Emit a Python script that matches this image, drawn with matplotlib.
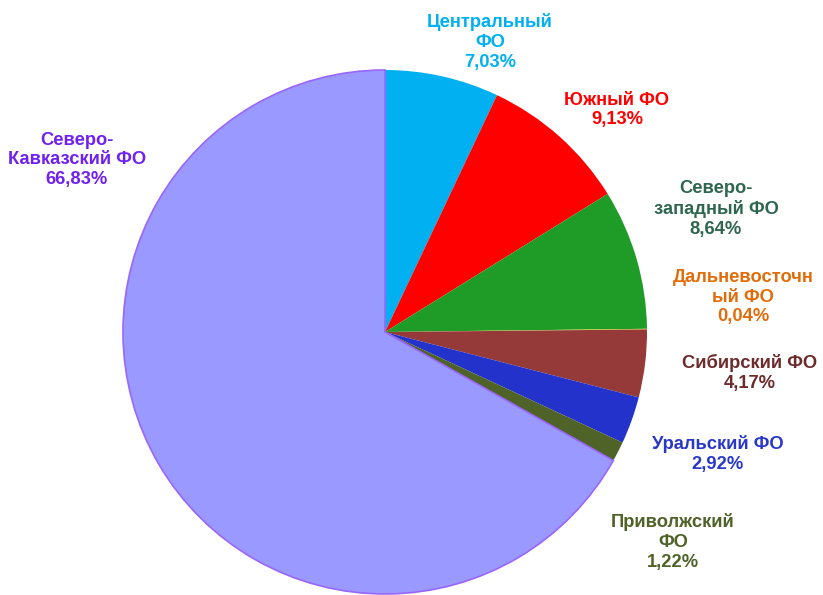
import matplotlib
matplotlib.use("Agg")
import matplotlib.pyplot as plt

categories = ["Центральный\nФО", "Южный ФО", "Северо-\nзападный ФО", "Дальневосточн\nый ФО",
              "Сибирский ФО", "Уральский ФО", "Приволжский\nФО", "Северо-\nКавказский ФО"]
values = [7.03, 9.13, 8.64, 0.04, 4.17, 2.92, 1.22, 66.83]
value_labels = ["7,03%", "9,13%", "8,64%", "0,04%", "4,17%", "2,92%", "1,22%", "66,83%"]

slice_colors = ["#00B0F0", "#FF0000", "#1F9B27", "#D8CC10", "#953A38", "#2432CC", "#4F6228", "#9999FF"]
text_colors = ["#00B0F0", "#FF0000", "#2F6650", "#E36C0A", "#6E2B2B", "#2A38C8", "#4F6228", "#7020F0"]
# label centres in pixels (layout)
label_pos = [(490, 42), (617, 110), (716, 209), (743, 297), (750, 373), (718, 454), (673, 542), (77, 160)]

W, H = 823, 595
fig = plt.figure(figsize=(W / 100, H / 100), dpi=100)
cx, cy, r = 385, 332, 262
ax = fig.add_axes([(cx - r) / W, (H - cy - r) / H, 2 * r / W, 2 * r / H])
wedges, _ = ax.pie(values, colors=slice_colors, startangle=90, counterclock=False,
                   radius=1.0, wedgeprops=dict(linewidth=0))
wedges[-1].set_edgecolor("#9966FF")
wedges[-1].set_linewidth(1.2)
ax.set_xlim(-1.0, 1.0)
ax.set_ylim(-1.0, 1.0)
ax.set_aspect("equal")
ax.axis("off")

for cat, vl, col, (px, py) in zip(categories, value_labels, text_colors, label_pos):
    fig.text(px / W, 1 - py / H, cat + "\n" + vl, ha="center", va="center",
             color=col, fontsize=13.2, fontweight="bold", family="Liberation Sans",
             linespacing=1.2)

fig.savefig("out.png", dpi=100)
